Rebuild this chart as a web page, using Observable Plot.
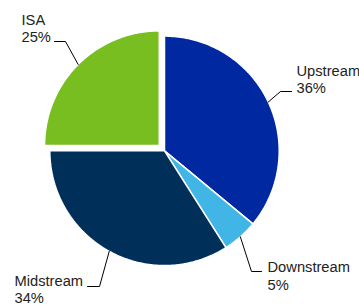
<!DOCTYPE html>
<html><head><meta charset="utf-8">
<script src="https://cdn.jsdelivr.net/npm/d3@7"></script>
<script src="https://cdn.jsdelivr.net/npm/@observablehq/plot@0.6"></script>
<style>html,body{margin:0;padding:0;background:#fff;}</style>
</head><body><div id="chart"></div>
<script>
// Data
const categories = ["Upstream", "Downstream", "Midstream", "ISA"];
const shares = [36, 5, 34, 25];
const colors = ["#0028a0", "#41b6e6", "#00305a", "#78be20"];
const explodedCategory = "ISA";

// Layout (pixel positions of label annotations)
const W = 359, H = 306, CX = 164, CY = 150.3, R = 114.7;
const layout = {
  ISA:        {elbow: [65, 41],  end: [54, 41],  text: [21, 27.6]},
  Upstream:   {elbow: [280, 91], end: [291, 91], text: [296, 78.7]},
  Downstream: {elbow: [251, 271], end: [261, 271], text: [267, 275.1]},
  Midstream:  {elbow: [99, 286], end: [87, 286], text: [14, 288.6]}
};
const toU = px => (px - CX) / R, toV = py => (CY - py) / R;

const arcs = d3.pie().sort(null).value(d => d.share)(
  categories.map((c, i) => ({name: c, share: shares[i]}))
);
const explode = 7.4 / R;
const slicePts = [], leaderPts = [], labels = [];
arcs.forEach(a => {
  const name = a.data.name;
  const mid = (a.startAngle + a.endAngle) / 2;
  const off = name === explodedCategory ? explode : 0;
  const ox = off * Math.sin(mid), oy = off * Math.cos(mid);
  slicePts.push({name, x: ox, y: oy});
  const n = Math.max(2, Math.ceil((a.endAngle - a.startAngle) / (Math.PI / 180)));
  for (let k = 0; k <= n; k++) {
    const t = a.startAngle + (a.endAngle - a.startAngle) * k / n;
    slicePts.push({name, x: ox + Math.sin(t), y: oy + Math.cos(t)});
  }
  const L = layout[name];
  leaderPts.push(
    {name, x: ox + Math.sin(mid), y: oy + Math.cos(mid)},
    {name, x: toU(L.elbow[0]), y: toV(L.elbow[1])},
    {name, x: toU(L.end[0]), y: toV(L.end[1])}
  );
  labels.push({name, text: `${name}\n${a.data.share}%`, x: toU(L.text[0]), y: toV(L.text[1])});
});

const chart = Plot.plot({
  width: W, height: H, margin: 0,
  style: {fontFamily: "'Liberation Sans', Arial, sans-serif", background: "#fff"},
  x: {domain: [toU(0), toU(W)], axis: null},
  y: {domain: [toV(H), toV(0)], axis: null},
  color: {domain: categories, range: colors},
  marks: [
    Plot.line(slicePts, {x: "x", y: "y", z: "name", fill: "name", stroke: "#fff", strokeWidth: 1.5, curve: "linear-closed", strokeLinejoin: "miter"}),
    Plot.line(leaderPts, {x: "x", y: "y", z: "name", stroke: "#000", strokeWidth: 1, strokeLinejoin: "miter"}),
    Plot.text(labels, {x: "x", y: "y", text: "text", textAnchor: "start", lineAnchor: "middle", lineHeight: 1.18, fontSize: 14.7, fill: "#222"})
  ]
});
document.getElementById("chart").appendChild(chart);
</script>
</body></html>
